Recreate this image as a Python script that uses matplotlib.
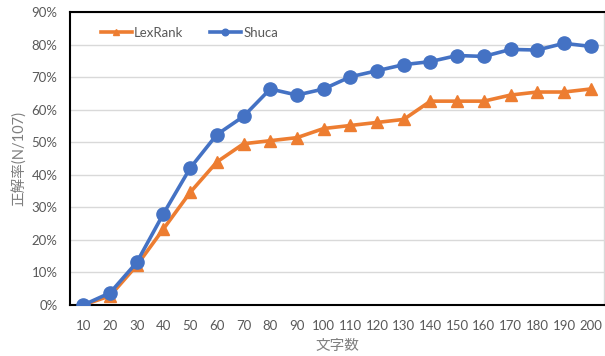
import matplotlib
matplotlib.use("Agg")
import matplotlib.pyplot as plt
from matplotlib.ticker import PercentFormatter

plt.rcParams['font.family'] = ['Lato', 'Noto Sans CJK JP', 'DejaVu Sans']

# Character-count buckets and accuracy (correct answers out of 107)
char_counts = [10, 20, 30, 40, 50, 60, 70, 80, 90, 100,
               110, 120, 130, 140, 150, 160, 170, 180, 190, 200]
lexrank_correct = [0, 3, 13, 25, 37, 47, 53, 54, 55, 58,
                   59, 60, 61, 67, 67, 67, 69, 70, 70, 71]
shuca_correct = [0, 4, 14, 30, 45, 56, 62, 71, 69, 71,
                 75, 77, 79, 80, 82, 81.7, 84, 83.8, 86, 85]
total = 107

lexrank_rate = [v / total * 100 for v in lexrank_correct]
shuca_rate = [v / total * 100 for v in shuca_correct]

ORANGE = "#ED7D31"
BLUE = "#4472C4"
TEXT = "#595959"

fig = plt.figure(figsize=(6.05, 3.56), dpi=100)
ax = fig.add_axes([70 / 605, 51 / 356, 534 / 605, 293 / 356])

x = list(range(len(char_counts)))
ax.plot(x, lexrank_rate, color=ORANGE, lw=2.6, marker="^", ms=9,
        label="LexRank", zorder=3)
ax.plot(x, shuca_rate, color=BLUE, lw=2.6, marker="o", ms=9.5,
        label="Shuca", zorder=4)

ax.set_xlim(-0.5, len(char_counts) - 0.5)
ax.set_ylim(0, 90)
ax.set_yticks(range(0, 91, 10))
ax.yaxis.set_major_formatter(PercentFormatter(decimals=0))
ax.set_xticks(x)
ax.set_xticklabels([str(c) for c in char_counts])

ax.grid(axis="y", color="#D9D9D9", lw=1)
ax.set_axisbelow(True)
ax.tick_params(length=0, labelsize=9.5, labelcolor=TEXT)
ax.tick_params(axis="x", pad=11)
ax.tick_params(axis="y", pad=9)

for side in ("left", "top", "bottom"):
    ax.spines[side].set_color("black")
    ax.spines[side].set_linewidth(1.5)
ax.spines["right"].set_color("#D9D9D9")
ax.spines["right"].set_linewidth(1)

ax.set_xlabel("文字数", color="#7F7F7F", fontsize=10.5, labelpad=5)
ax.set_ylabel("正解率(N/107)", color="#7F7F7F", fontsize=10.5, labelpad=3)

leg = ax.legend(loc="upper left", ncol=2, frameon=False, fontsize=9.5,
                markerscale=0.5, handlelength=2.35, handletextpad=0.2,
                columnspacing=2.0, bbox_to_anchor=(0.035, 0.99))
for t in leg.get_texts():
    t.set_color(TEXT)

fig.savefig("out.png", dpi=100)
